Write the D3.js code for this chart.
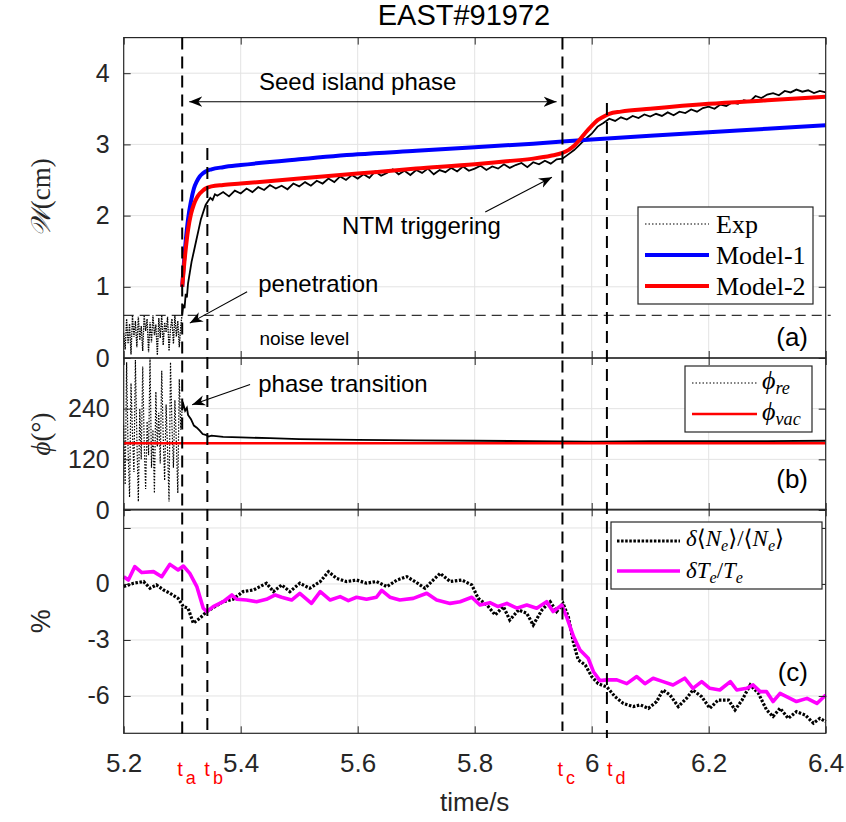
<!DOCTYPE html>
<html>
<head>
<meta charset="utf-8">
<script src="https://cdn.jsdelivr.net/npm/d3@7"></script>
<style>
body{margin:0;background:#fff;}
svg text{font-family:"Liberation Sans",Arial,sans-serif;fill:#262626;}
.serif{font-family:"Liberation Serif","DejaVu Serif",serif !important;}
</style>
</head>
<body>
<svg id="fig" width="846" height="822"></svg>
<script>
// ---------- data ----------
var xTicks=[5.2,5.4,5.6,5.8,6,6.2,6.4];
var markTimes=[5.30,5.343,5.95,6.026];
var markNames=["a","b","c","d"];

// panel (a) island width W (cm)
var expPreW=[0.35,0.12,0.55,0.2,0.48,0.05,0.6,0.3,0.52,0.15,0.58,0.25,0.45,0.1,0.6,0.38,0.55,0.08,0.5,0.22,
             0.6,0.32,0.47,0.04,0.56,0.28,0.6,0.18,0.5,0.36,0.58,0.1,0.42,0.55,0.2,0.6,0.3,0.52,0.15,0.45,0.62];
var expRiseT=[5.302,5.304,5.306,5.308,5.31,5.313,5.316,5.32,5.324,5.328,5.332,5.336,5.34,5.344,5.348,5.352,5.356];
var expRiseW=[0.75,0.7,0.9,0.85,1.05,1.2,1.35,1.5,1.65,1.8,1.95,2.05,2.15,2.2,2.25,2.22,2.3];
var expW=[2.28,2.33,2.27,2.35,2.31,
          2.38,2.33,2.40,2.36,2.43,2.38,2.42,2.37,2.45,2.41,
          2.47,2.42,2.49,2.45,2.52,2.47,2.55,2.50,2.57,2.52,
          2.58,2.53,2.62,2.56,2.60,2.65,2.58,2.63,2.57,2.64,
          2.60,2.66,2.58,2.64,2.61,2.67,2.62,2.69,2.63,2.66,
          2.70,2.64,2.69,2.66,2.72,2.67,2.71,2.74,2.68,2.75,
          2.72,2.77,2.73,2.79,2.80,
          2.86,2.92,3.00,3.08,3.15,
          3.25,3.30,3.36,3.33,3.38,
          3.35,3.40,3.37,3.42,3.39,
          3.43,3.40,3.45,3.41,3.46,3.44,3.49,3.46,3.51,3.53,
          3.50,3.56,3.54,3.59,3.57,3.62,3.60,3.68,3.65,3.70,
          3.72,3.69,3.75,3.73,3.77,3.74,3.76,3.72,3.75,3.73];
var m1T=[5.30,5.305,5.31,5.315,5.32,5.325,5.33,5.335,5.34,5.35,5.37,5.4,5.5,5.6,5.7,5.8,5.9,6.0,6.1,6.2,6.3,6.4];
var m1W=[1.0,1.55,1.95,2.2,2.38,2.48,2.55,2.59,2.62,2.65,2.68,2.71,2.79,2.86,2.91,2.96,3.01,3.07,3.12,3.17,3.22,3.27];
var m2T=[5.30,5.305,5.31,5.315,5.32,5.325,5.33,5.335,5.34,5.35,5.37,5.4,5.5,5.6,5.7,5.8,5.85,5.9,5.93,5.95,
         5.96,5.97,5.98,5.99,6.0,6.01,6.02,6.03,6.05,6.1,6.2,6.3,6.4];
var m2W=[1.0,1.45,1.8,2.02,2.16,2.25,2.31,2.35,2.38,2.41,2.43,2.45,2.52,2.59,2.66,2.72,2.76,2.8,2.84,2.88,
         2.92,2.98,3.07,3.17,3.26,3.34,3.39,3.43,3.46,3.50,3.57,3.62,3.67];
var noiseLevel=0.6;

// panel (b) phase (deg)
var phiPre=[200,60,350,140,30,300,180,90,355,170,20,240,120,340,160,50,210,130,360,100,
            190,40,280,150,230,110,330,175,70,250,140,20,350,200,100,260,160,40,310,190,240];
var phiT=[5.302,5.305,5.308,5.31,5.315,5.32,5.325,5.33,5.335,5.34,5.345,5.35,5.37,5.4,5.45,5.5,5.6,5.7,5.8,5.9,6.0,6.1,6.2,6.3,6.4];
var phiV=[250,235,242,225,215,200,195,188,180,178,174,176,173,172,170,168,166,165,164,163,162,163,163,163,164];
var phiVac=158;

// panel (c) perturbations (%)
var teT=[5.200,5.208,5.219,5.231,5.251,5.265,5.279,5.293,5.302,5.313,5.325,5.336,5.342,5.353,5.370,5.385,5.393,5.410,5.427,5.444,
         5.459,5.470,5.487,5.501,5.521,5.536,5.553,5.570,5.584,5.598,5.615,5.632,5.641,5.655,5.672,5.695,5.718,5.735,5.758,5.775,
         5.795,5.809,5.826,5.840,5.855,5.872,5.889,5.906,5.923,5.934,5.949,5.957,5.969,5.980,5.994,6.003,6.014,6.026,6.043,6.060,
         6.077,6.091,6.105,6.122,6.139,6.159,6.173,6.188,6.202,6.219,6.237,6.248,6.265,6.276,6.288,6.299,6.310,6.322,6.339,6.350,
         6.368,6.385,6.400];
var teV=[0.39,0.21,0.93,0.61,0.66,0.39,1.05,0.75,0.96,0.57,-0.14,-1.30,-1.48,-1.21,-0.95,-0.59,-0.82,-0.86,-0.95,-0.82,
         -0.59,-0.71,-0.86,-0.50,-1.04,-0.41,-0.86,-0.68,-0.89,-0.71,-0.82,-0.71,-0.34,-0.71,-0.86,-0.77,-0.50,-0.86,-1.04,-0.95,
         -0.71,-1.13,-1.00,-1.21,-1.04,-1.30,-1.13,-1.30,-0.95,-1.48,-1.13,-1.75,-2.82,-3.54,-3.98,-4.70,-5.18,-5.14,-5.14,-5.34,
         -4.96,-5.34,-5.05,-5.23,-5.41,-5.05,-5.59,-5.23,-5.59,-5.68,-5.23,-5.68,-5.59,-5.41,-5.77,-5.77,-6.30,-5.86,-6.13,-6.30,
         -6.13,-6.40,-5.95];
var neT=[5.200,5.217,5.234,5.245,5.256,5.268,5.279,5.293,5.302,5.310,5.319,5.330,5.342,5.356,5.370,5.387,5.404,5.422,5.444,5.456,
         5.470,5.484,5.501,5.518,5.536,5.550,5.564,5.581,5.598,5.615,5.632,5.650,5.667,5.684,5.698,5.715,5.729,5.741,5.758,5.778,
         5.795,5.806,5.821,5.835,5.849,5.860,5.875,5.889,5.900,5.915,5.929,5.940,5.951,5.960,5.969,5.977,5.989,6.000,6.011,6.026,
         6.040,6.054,6.071,6.083,6.097,6.111,6.122,6.134,6.148,6.162,6.173,6.188,6.202,6.216,6.234,6.245,6.257,6.271,6.285,6.299,
         6.310,6.322,6.336,6.350,6.365,6.379,6.390,6.400];
var neV=[-0.14,0.04,0.13,-0.23,-0.05,-0.32,-0.50,-0.77,-1.21,-1.30,-2.10,-1.84,-1.48,-1.21,-0.95,-0.82,-0.41,-0.32,0.04,-0.41,
         -0.05,-0.41,0.04,-0.23,0.13,0.66,0.30,0.13,0.21,0.04,0.13,-0.14,0.21,0.39,0.13,-0.23,0.21,0.57,0.13,0.21,
         -0.05,-0.77,-1.13,-1.66,-1.21,-1.93,-1.39,-1.57,-2.20,-1.39,-0.95,-1.48,-1.04,-1.75,-3.18,-4.07,-4.34,-4.96,-5.34,-5.52,
         -6.04,-6.40,-6.57,-6.48,-6.66,-6.30,-5.68,-5.95,-6.57,-6.13,-5.68,-6.04,-6.66,-6.22,-6.22,-6.75,-6.22,-5.41,-5.86,-6.75,
         -7.10,-6.66,-7.20,-6.84,-7.02,-7.46,-7.20,-7.37];

// ---------- scales ----------
var svg=d3.select("#fig");
var x=d3.scaleLinear().domain([5.2,6.4]).range([123.7,825.7]);
var yA=d3.scaleLinear().domain([0,4.5]).range([358,37.6]);
var yB=d3.scaleLinear().domain([0,360]).range([510,358]);
var yC=d3.scaleLinear().domain([-8,4]).range([733.3,509.3]);
var x0=x.range()[0],x1=x.range()[1];

var panels=[
  {y:yA,ticks:[0,1,2,3,4],labels:[0,1,2,3,4]},
  {y:yB,ticks:[0,120,240],labels:[0,120,240]},
  {y:yC,ticks:[-6,-3,0,3],labels:[-6,-3,0]}
];

var defs=svg.append("defs");
defs.append("marker").attr("id","ah")
  .attr("viewBox","0 0 10 10").attr("refX",10).attr("refY",5)
  .attr("markerWidth",13).attr("markerHeight",13)
  .attr("markerUnits","userSpaceOnUse").attr("orient","auto-start-reverse")
  .append("path").attr("d","M0,1 L10,5 L0,9 L3,5Z").attr("fill","#000");

// grid
panels.forEach(function(p){
  var g=svg.append("g").attr("stroke","#e3e3e3").attr("stroke-width",1);
  xTicks.slice(1,-1).forEach(function(t){
    g.append("line").attr("x1",x(t)).attr("x2",x(t)).attr("y1",p.y.range()[0]).attr("y2",p.y.range()[1]);
  });
  p.ticks.forEach(function(v){
    if(v==p.y.domain()[0])return;
    g.append("line").attr("x1",x0).attr("x2",x1).attr("y1",p.y(v)).attr("y2",p.y(v));
  });
});

// ---------- panel (a) ----------
var lineA=d3.line().x(function(d){return x(d[0]);}).y(function(d){return yA(d[1]);});
var preA=expPreW.map(function(v,i){return [5.2+i*0.0025,v];});
var mainA=expRiseT.map(function(t,i){return [t,expRiseW[i]];})
  .concat(expW.map(function(v,i){return [5.36+i*0.01,v];}));

svg.append("line").attr("x1",x0).attr("x2",x1+5)
  .attr("y1",yA(noiseLevel)).attr("y2",yA(noiseLevel))
  .attr("stroke","#333").attr("stroke-width",1.2).attr("stroke-dasharray","10,6");

svg.append("path").datum(preA).attr("d",lineA).attr("fill","none")
  .attr("stroke","#000").attr("stroke-width",1.3).attr("stroke-dasharray","1.5,1");
svg.append("path").datum([preA[preA.length-1]].concat(mainA)).attr("d",lineA).attr("fill","none")
  .attr("stroke","#000").attr("stroke-width",1.8);
svg.append("path").datum(m1T.map(function(t,i){return [t,m1W[i]];})).attr("d",lineA.curve(d3.curveMonotoneX))
  .attr("fill","none").attr("stroke","#0000ff").attr("stroke-width",4);
svg.append("path").datum(m2T.map(function(t,i){return [t,m2W[i]];})).attr("d",lineA.curve(d3.curveMonotoneX))
  .attr("fill","none").attr("stroke","#ff0000").attr("stroke-width",4);

// ---------- panel (b) ----------
var lineB=d3.line().x(function(d){return x(d[0]);}).y(function(d){return yB(d[1]);});
var preB=phiPre.map(function(v,i){return [5.2+i*0.0025,v];});
svg.append("path").datum(preB).attr("d",lineB).attr("fill","none")
  .attr("stroke","#000").attr("stroke-width",1.2).attr("stroke-dasharray","1.5,1.5");
svg.append("path").datum([preB[preB.length-1]].concat(phiT.map(function(t,i){return [t,phiV[i]];})))
  .attr("d",lineB).attr("fill","none").attr("stroke","#000").attr("stroke-width",1.8);
svg.append("path").datum([[5.2,phiVac],[6.4,phiVac]]).attr("d",lineB)
  .attr("fill","none").attr("stroke","#ff0000").attr("stroke-width",2.5);

// ---------- panel (c) ----------
var lineC=d3.line().x(function(d){return x(d[0]);}).y(function(d){return yC(d[1]);});
svg.append("path").datum(neT.map(function(t,i){return [t,neV[i]];})).attr("d",lineC)
  .attr("fill","none").attr("stroke","#000").attr("stroke-width",3.2).attr("stroke-dasharray","2.5,1.6");
svg.append("path").datum(teT.map(function(t,i){return [t,teV[i]];})).attr("d",lineC)
  .attr("fill","none").attr("stroke","#ff00ff").attr("stroke-width",3.6).attr("stroke-linejoin","round");

// ---------- axes, boxes ----------
panels.forEach(function(p,k){
  var r=p.y.range();
  svg.append("g").attr("transform","translate("+x0+",0)")
    .call(d3.axisLeft(p.y).tickValues(p.ticks).tickSizeInner(-7).tickSizeOuter(0).tickPadding(14)
      .tickFormat(function(d){return p.labels.indexOf(d)>=0?d:"";}))
    .call(function(g){
      g.select(".domain").remove();
      g.selectAll("line").attr("stroke","#262626");
      g.selectAll("text").attr("font-size",25).attr("fill","#262626").attr("font-family","Liberation Sans, Arial, sans-serif");
    });
  svg.append("g").attr("transform","translate("+x1+",0)")
    .call(d3.axisRight(p.y).tickValues(p.ticks).tickSizeInner(-7).tickSizeOuter(0).tickFormat(""))
    .call(function(g){g.select(".domain").remove();g.selectAll("line").attr("stroke","#262626");});
  svg.append("g").attr("transform","translate(0,"+r[1]+")")
    .call(d3.axisTop(x).tickValues(xTicks).tickSizeInner(-7).tickSizeOuter(0).tickFormat(""))
    .call(function(g){g.select(".domain").remove();g.selectAll("line").attr("stroke","#262626");});
  var bottom=svg.append("g").attr("transform","translate(0,"+r[0]+")")
    .call(d3.axisBottom(x).tickValues(xTicks).tickSizeInner(-7).tickSizeOuter(0).tickPadding(20)
      .tickFormat(k==2?d3.format("~g"):""));
  bottom.select(".domain").remove();
  bottom.selectAll("line").attr("stroke","#262626");
  bottom.selectAll("text").attr("font-size",26).attr("fill","#262626").attr("font-family","Liberation Sans, Arial, sans-serif");
  svg.append("rect").attr("x",x0).attr("y",r[1]).attr("width",x1-x0).attr("height",r[0]-r[1])
    .attr("fill","none").attr("stroke","#262626").attr("stroke-width",1.2);
});

// vertical event lines
var markTop=[yA(4.5),yA(2.95),yA(4.5),yA(3.58)];
var markBottom=[735,737,731,738];
var markLabelShift=[-5,-3,-5,0];
markTimes.forEach(function(t,i){
  svg.append("line").attr("x1",x(t)).attr("x2",x(t)).attr("y1",markTop[i]).attr("y2",markBottom[i])
    .attr("stroke","#000").attr("stroke-width",2).attr("stroke-dasharray","12,7");
  var tx=svg.append("text").attr("x",x(t)+markLabelShift[i]).attr("y",776).attr("font-size",20).style("fill","#ff0000");
  tx.append("tspan").text("t");
  tx.append("tspan").attr("dy",8).attr("dx",3).attr("font-size",18).text(markNames[i]);
});

// ---------- annotations ----------
function arrow(t1,v1,t2,v2,y,both){
  var l=svg.append("line").attr("x1",x(t1)).attr("y1",y(v1)).attr("x2",x(t2)).attr("y2",y(v2))
    .attr("stroke","#000").attr("stroke-width",1.1).attr("marker-end","url(#ah)");
  if(both)l.attr("marker-start","url(#ah)");
}
arrow(5.312,3.6,5.94,3.6,yA,true);
arrow(5.818,2.05,5.932,2.54,yA);
arrow(5.411,0.93,5.313,0.49,yA);
arrow(5.416,297,5.317,249.5,yB);

function label(txt,t,v,y,size,anchor){
  svg.append("text").attr("x",x(t)).attr("y",y(v)).attr("font-size",size)
    .attr("text-anchor",anchor||"start").style("fill","#000").text(txt);
}
label("Seed island phase",5.6,3.76,yA,24,"middle");
label("NTM triggering",5.709,1.74,yA,24,"middle");
label("penetration",5.43,0.93,yA,24);
label("noise level",5.432,0.18,yA,19);
label("phase transition",5.43,279,yB,24);

svg.append("text").attr("x",808).attr("y",346).attr("font-size",26).attr("text-anchor","end").style("fill","#000").text("(a)");
svg.append("text").attr("x",808).attr("y",488).attr("font-size",26).attr("text-anchor","end").style("fill","#000").text("(b)");
svg.append("text").attr("x",808).attr("y",681).attr("font-size",26).attr("text-anchor","end").style("fill","#000").text("(c)");

// title and axis labels
svg.append("text").attr("x",464).attr("y",25).attr("font-size",29).attr("text-anchor","middle").style("fill","#000").text("EAST#91972");
svg.append("text").attr("x",x(5.8)).attr("y",811).attr("font-size",26).attr("text-anchor","middle").text("time/s");

var yl=svg.append("text").attr("class","serif").attr("transform","translate(50,"+yA(2.25)+") rotate(-90)")
  .attr("text-anchor","middle").attr("font-size",27);
yl.append("tspan").attr("font-style","italic").text("𝒲");
yl.append("tspan").text("(cm)");
var yl2=svg.append("text").attr("class","serif").attr("transform","translate(50,"+yB(180)+") rotate(-90)")
  .attr("text-anchor","middle").attr("font-size",27);
yl2.append("tspan").attr("font-style","italic").text("ϕ");
yl2.append("tspan").text("(°)");
svg.append("text").attr("transform","translate(50,"+yC(-2)+") rotate(-90)")
  .attr("text-anchor","middle").attr("font-size",27).text("%");

// ---------- legends ----------
function legendBox(bx,by,bw,bh){
  svg.append("rect").attr("x",bx).attr("y",by).attr("width",bw).attr("height",bh)
    .attr("fill","#fff").attr("stroke","#262626").attr("stroke-width",1.2);
}
function legendLine(xa,xb,yy,color,w,dash){
  var l=svg.append("line").attr("x1",xa).attr("x2",xb).attr("y1",yy).attr("y2",yy)
    .attr("stroke",color).attr("stroke-width",w);
  if(dash)l.attr("stroke-dasharray",dash);
}
function legendText(tx,ty,parts,size){
  var t=svg.append("text").attr("class","serif").attr("x",tx).attr("y",ty).attr("font-size",size).style("fill","#000");
  parts.forEach(function(p){
    var s=t.append("tspan").text(p[0]);
    if(p[1])s.attr("font-style","italic");
    if(p[2]=="sub")s.attr("dy",5).attr("font-size",size*0.7);
    if(p[2]=="up")s.attr("dy",-5);
  });
}
legendBox(638,207,175,97);
legendLine(645,709,224,"#000",1.2,"1.5,2");
legendLine(645,709,255,"#0000ff",4);
legendLine(645,709,286,"#ff0000",4);
legendText(716,233,[["Exp"]],26);
legendText(716,264,[["Model-1"]],26);
legendText(716,295,[["Model-2"]],26);

legendBox(685,366,127,66);
legendLine(692,757,383,"#000",1.2,"1.5,2");
legendLine(692,757,414,"#ff0000",2.5);
legendText(762,389,[["ϕ",true],["re",true,"sub"]],26);
legendText(762,420,[["ϕ",true],["vac",true,"sub"]],26);

legendBox(611,522,211,67);
legendLine(617,680,541,"#000",3.2,"2.5,1.6");
legendLine(617,680,571,"#ff00ff",3.6);
legendText(686,546,[["δ",true],["⟨"],["N",true],["e",true,"sub"],["⟩/⟨",false,"up"],["N",true],["e",true,"sub"],["⟩",false,"up"]],23);
legendText(686,578,[["δT",true],["e",true,"sub"],["/",false,"up"],["T",true],["e",true,"sub"]],23);
</script>
</body>
</html>
